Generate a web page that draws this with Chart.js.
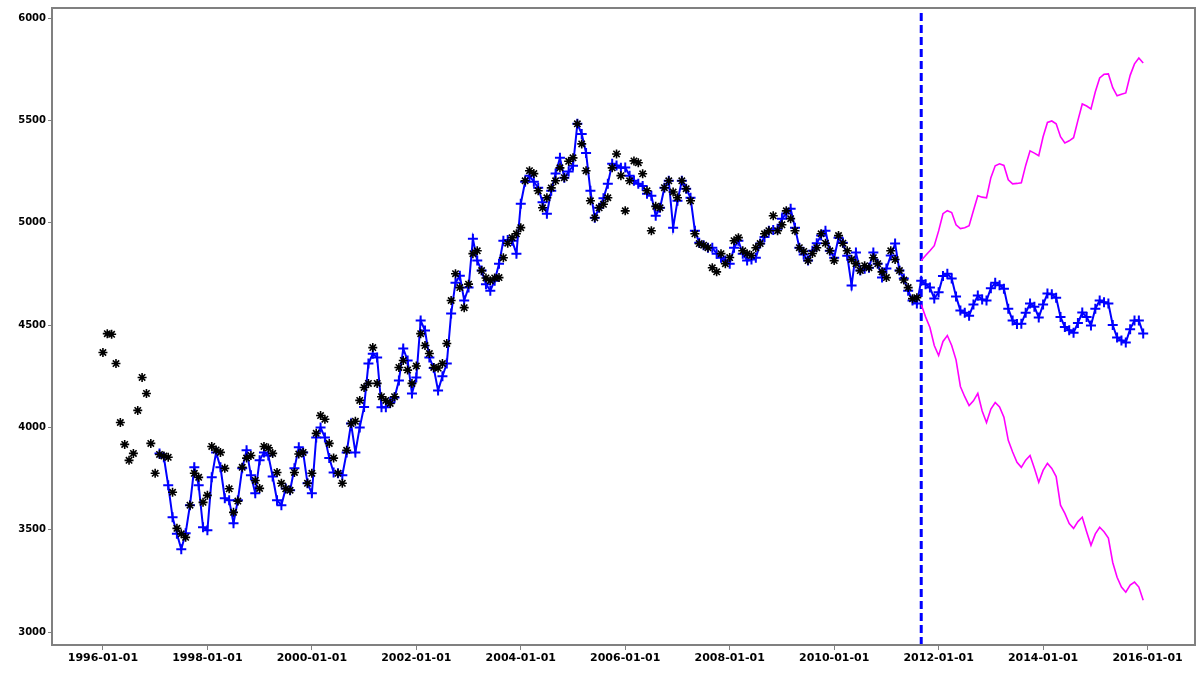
<!DOCTYPE html>
<html><head><meta charset="utf-8">
<script src="https://cdn.jsdelivr.net/npm/chart.js@4/dist/chart.umd.min.js"></script>
<style>html,body{margin:0;padding:0;background:#fff;overflow:hidden}</style>
</head><body>
<canvas id="c" width="1202" height="677" style="width:1202px;height:677px;display:block"></canvas>
<script>
// month index 0 = 1996-01
const actualStart = 0, fittedStart = 13, forecastStart = 188;

const actual = [
  4366, 4458, 4455, 4312, 4024, 3917, 3839, 3873, 4083, 4244, 4166, 3922,
  3776, 3868, 3860, 3854, 3683, 3507, 3480, 3463, 3620, 3776, 3756, 3634,
  3668, 3907, 3890, 3878, 3800, 3700, 3585, 3640, 3805, 3850, 3863, 3741,
  3702, 3907, 3900, 3873, 3780, 3727, 3700, 3693, 3780, 3870, 3878, 3727,
  3776, 3971, 4058, 4040, 3922, 3850, 3776, 3727, 3888, 4019, 4030, 4132,
  4195, 4215, 4390, 4215, 4150, 4132, 4117, 4150, 4293, 4327, 4280, 4215,
  4300, 4458, 4400, 4361, 4293, 4290, 4312, 4410, 4620, 4751, 4683, 4585,
  4700, 4849, 4863, 4766, 4730, 4717, 4730, 4732, 4829, 4900, 4927, 4946,
  4976, 5205, 5254, 5240, 5156, 5073, 5122, 5170, 5205, 5268, 5220, 5300,
  5317, 5483, 5385, 5254, 5107, 5024, 5073, 5090, 5122, 5268, 5336, 5230,
  5058, 5205, 5302, 5293, 5239, 5156, 4961, 5080, 5073, 5171, 5205, 5150,
  5122, 5205, 5166, 5107, 4946, 4898, 4890, 4878, 4780, 4760, 4849, 4800,
  4830, 4912, 4927, 4863, 4849, 4840, 4878, 4898, 4946, 4961, 5034, 4961,
  4990, 5058, 5020, 4961, 4878, 4860, 4815, 4850, 4878, 4946, 4900, 4863,
  4815, 4937, 4900, 4863, 4820, 4800, 4766, 4790, 4780, 4829, 4800, 4760,
  4732, 4863, 4820, 4766, 4720, 4683, 4629, 4634
];

const fitted = [
  3873, 3854, 3717, 3561, 3480, 3405, 3483, 3620, 3805, 3717, 3512, 3497,
  3756, 3878, 3805, 3654, 3644, 3532, 3644, 3800, 3888, 3766, 3678, 3839,
  3878, 3863, 3760, 3644, 3620, 3702, 3693, 3800, 3903, 3878, 3727, 3678,
  3951, 4000, 3951, 3850, 3780, 3776, 3766, 3878, 4019, 3878, 4000, 4100,
  4312, 4360, 4341, 4098, 4098, 4120, 4146, 4229, 4385, 4327, 4166, 4244,
  4522, 4473, 4341, 4290, 4180, 4250, 4312, 4556, 4707, 4741, 4620, 4683,
  4922, 4815, 4766, 4700, 4668, 4717, 4800, 4912, 4915, 4912, 4849, 5093,
  5200, 5229, 5200, 5171, 5100, 5044, 5156, 5240, 5317, 5220, 5250, 5278,
  5483, 5434, 5341, 5156, 5024, 5073, 5120, 5190, 5288, 5280, 5268, 5270,
  5230, 5205, 5190, 5180, 5141, 5132, 5034, 5073, 5171, 5205, 4976, 5107,
  5205, 5166, 5122, 4961, 4902, 4890, 4878, 4878, 4849, 4829, 4815, 4800,
  4878, 4912, 4849, 4815, 4820, 4829, 4898, 4930, 4961, 4965, 4971, 5020,
  5045, 5068, 4976, 4878, 4845, 4815, 4863, 4900, 4937, 4961, 4863, 4829,
  4927, 4902, 4839, 4693, 4854, 4766, 4775, 4780, 4854, 4800, 4732, 4776,
  4840, 4898, 4766, 4727, 4668, 4620, 4605
];

const forecast = [
  4717, 4700, 4683, 4630, 4660, 4740, 4751, 4727, 4640, 4571, 4560, 4546,
  4600, 4644, 4625, 4620, 4680, 4707, 4695, 4678, 4580, 4522, 4505, 4507,
  4560, 4605, 4590, 4537, 4600, 4654, 4650, 4634, 4540, 4490, 4475, 4463,
  4510, 4561, 4540, 4498, 4580, 4620, 4612, 4605, 4500, 4439, 4425, 4415,
  4480, 4522, 4522, 4459
];

const upper = [
  4815, 4840, 4863, 4888, 4960, 5044, 5059, 5050, 4990, 4971, 4975, 4985,
  5060, 5132, 5125, 5122, 5220, 5278, 5288, 5280, 5210, 5190, 5192, 5195,
  5280, 5351, 5340, 5327, 5420, 5490, 5497, 5483, 5420, 5390, 5400, 5415,
  5500, 5580, 5570, 5556, 5640, 5707, 5725, 5727, 5660, 5620, 5628, 5634,
  5720, 5776, 5805, 5780
];

const lower = [
  4600, 4540, 4488, 4400, 4351, 4420, 4449, 4400, 4330, 4200, 4150, 4107,
  4130, 4166, 4080, 4024, 4090, 4122, 4100, 4050, 3937, 3880, 3830, 3805,
  3840, 3863, 3800, 3732, 3790, 3824, 3800, 3760, 3620, 3580, 3530, 3507,
  3540, 3561, 3490, 3424, 3480, 3512, 3490, 3459, 3340, 3268, 3220, 3195,
  3230, 3244, 3220, 3156
];

const tickMonths = [0, 24, 48, 72, 96, 120, 144, 168, 192, 216, 240];
const tickLabels = ["1996-01-01", "1998-01-01", "2000-01-01", "2002-01-01", "2004-01-01",
  "2006-01-01", "2008-01-01", "2010-01-01", "2012-01-01", "2014-01-01", "2016-01-01"];
const yTicks = [3000, 3500, 4000, 4500, 5000, 5500, 6000];
const yMin = 2937, yMax = 6049;
const xMin = -11.7, xMax = 250.9;

const toPts = (arr, start) => arr.map((v, i) => ({ x: start + i, y: v }));
const blueSeries = toPts(fitted, fittedStart).concat(toPts(forecast, forecastStart));

const framePlugin = {
  id: 'frame',
  afterDraw(chart) {
    const { ctx, chartArea: a } = chart;
    ctx.save();
    ctx.strokeStyle = '#808080';
    ctx.lineWidth = 2;
    ctx.strokeRect(a.left, a.top, a.right - a.left, a.bottom - a.top);
    ctx.restore();
  }
};

new Chart(document.getElementById('c'), {
  type: 'scatter',
  data: {
    datasets: [
      {
        label: 'actual', data: toPts(actual, actualStart), showLine: false,
        pointStyle: 'star', pointRadius: 4.5, pointBorderWidth: 1.6,
        borderColor: '#000', backgroundColor: '#000', order: 1
      },
      {
        label: 'fitted', data: blueSeries, showLine: true,
        borderColor: '#0000ff', backgroundColor: '#0000ff', borderWidth: 2,
        pointStyle: 'cross', pointRadius: 5, pointBorderWidth: 2, tension: 0, order: 2
      },
      {
        label: 'upper', data: toPts(upper, forecastStart), showLine: true,
        borderColor: '#ff00ff', borderWidth: 1.6, pointRadius: 0, order: 3
      },
      {
        label: 'lower', data: toPts(lower, forecastStart), showLine: true,
        borderColor: '#ff00ff', borderWidth: 1.6, pointRadius: 0, order: 3
      },
      {
        label: 'split', data: [{ x: forecastStart, y: yMin }, { x: forecastStart, y: yMax }],
        showLine: true, borderColor: '#0000ff', borderWidth: 3, borderDash: [8, 4],
        pointRadius: 0, order: 4
      }
    ]
  },
  options: {
    responsive: false, animation: false, devicePixelRatio: 1,
    layout: { padding: { top: 7, right: 5, left: 0, bottom: 0 } },
    plugins: { legend: { display: false }, tooltip: { enabled: false } },
    scales: {
      x: {
        type: 'linear', min: xMin, max: xMax,
        afterBuildTicks: s => { s.ticks = tickMonths.map(v => ({ value: v })); },
        afterFit: s => { s.height = 32; },
        ticks: {
          autoSkip: false, maxRotation: 0, padding: 2, color: '#000',
          font: { family: 'DejaVu Sans', size: 11, weight: 'bold' },
          callback: v => tickLabels[tickMonths.indexOf(v)]
        },
        grid: { display: true, drawOnChartArea: false, drawTicks: true, tickLength: 5, color: '#808080', lineWidth: 1 },
        border: { display: true, color: '#808080', width: 2 }
      },
      y: {
        type: 'linear', min: yMin, max: yMax,
        afterBuildTicks: s => { s.ticks = yTicks.map(v => ({ value: v })); },
        afterFit: s => { s.width = 52; },
        ticks: {
          padding: 2, color: '#000',
          font: { family: 'DejaVu Sans', size: 10, weight: 'bold' },
          callback: v => String(v)
        },
        grid: { display: true, drawOnChartArea: false, drawTicks: true, tickLength: 4, color: '#808080', lineWidth: 1 },
        border: { display: true, color: '#808080', width: 2 }
      }
    }
  },
  plugins: [framePlugin]
});
</script>
</body></html>
